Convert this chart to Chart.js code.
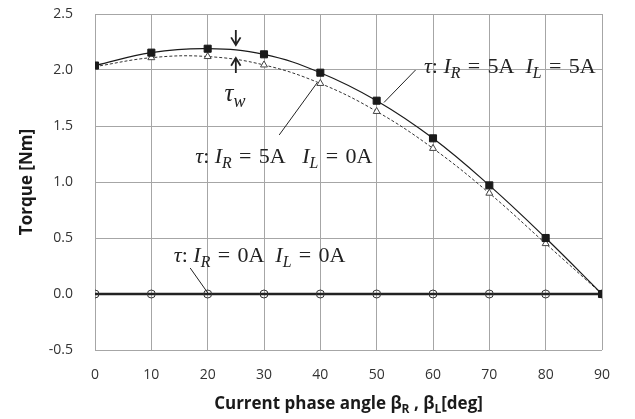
<!DOCTYPE html>
<html>
<head>
<meta charset="utf-8">
<script src="https://cdn.jsdelivr.net/npm/chart.js@4.4.1/dist/chart.umd.min.js"></script>
<style>
  html, body { margin: 0; padding: 0; background: #ffffff; }
  #wrap { width: 635px; height: 419px; position: relative; }
</style>
</head>
<body>
<div id="wrap"><canvas id="torque-chart" width="635" height="419"></canvas></div>
<script>
// phase angle (deg)
const angles = [0, 10, 20, 30, 40, 50, 60, 70, 80, 90];
// torque, IR = 5A, IL = 5A
const torque55 = [2.04, 2.155, 2.19, 2.14, 1.976, 1.726, 1.39, 0.97, 0.50, 0.0];
// torque, IR = 5A, IL = 0A
const torque50 = [2.03, 2.11, 2.12, 2.045, 1.88, 1.63, 1.30, 0.90, 0.45, 0.0];
// torque, IR = 0A, IL = 0A
const torque00 = [0, 0, 0, 0, 0, 0, 0, 0, 0, 0];

const yTicks = [-0.5, 0.0, 0.5, 1.0, 1.5, 2.0, 2.5];

const TICK_FONT = "'Open Sans', 'Liberation Sans', sans-serif";
const MATH_FONT = "'Liberation Serif', 'DejaVu Serif', serif";
const EQ = '\u2004=\u2004';

function toXY(ys) {
    return angles.map((a, i) => ({ x: a, y: ys[i] }));
}

// draws a run of text pieces: [text, italic, subscript]
function drawRich(ctx, x, y, parts, size) {
    let cx = x;
    parts.forEach(p => {
        const sub = p[2];
        const fs = sub ? size * 0.72 : size;
        ctx.font = (p[1] ? 'italic ' : '') + fs + 'px ' + MATH_FONT;
        ctx.fillText(p[0], cx, sub ? y + size * 0.22 : y);
        cx += ctx.measureText(p[0]).width;
    });
}

function arrow(ctx, x1, y1, x2, y2) {
    const ang = Math.atan2(y2 - y1, x2 - x1);
    const h = 9;
    ctx.beginPath();
    ctx.moveTo(x1, y1);
    ctx.lineTo(x2, y2);
    ctx.moveTo(x2 - h * Math.cos(ang - 0.55), y2 - h * Math.sin(ang - 0.55));
    ctx.lineTo(x2, y2);
    ctx.lineTo(x2 - h * Math.cos(ang + 0.55), y2 - h * Math.sin(ang + 0.55));
    ctx.stroke();
}

const labelsPlugin = {
    id: 'labels',
    afterDraw(chart) {
        const ctx = chart.ctx;
        const xs = chart.scales.x, ys = chart.scales.y;
        const X = v => xs.getPixelForValue(v);
        const Y = v => ys.getPixelForValue(v);
        ctx.save();
        ctx.fillStyle = '#222222';
        ctx.strokeStyle = '#222222';
        ctx.textBaseline = 'alphabetic';
        ctx.textAlign = 'left';

        const size = 22;
        drawRich(ctx, X(58.4), Y(1.97), [['τ', true], [': ', false], ['I', true], ['R', true, true], [EQ + '5A  ', false], ['I', true], ['L', true, true], [EQ + '5A', false]], size);
        drawRich(ctx, X(17.8), Y(1.17), [['τ', true], [': ', false], ['I', true], ['R', true, true], [EQ + '5A   ', false], ['I', true], ['L', true, true], [EQ + '0A', false]], size);
        drawRich(ctx, X(14.0), Y(0.286), [['τ', true], [': ', false], ['I', true], ['R', true, true], [EQ + '0A  ', false], ['I', true], ['L', true, true], [EQ + '0A', false]], size);
        drawRich(ctx, X(23.0), Y(1.72), [['τ', true], ['w', true, true]], 25);

        // leader lines
        ctx.lineWidth = 1;
        ctx.beginPath();
        ctx.moveTo(X(56.9), Y(2.0)); ctx.lineTo(X(51.3), Y(1.71));
        ctx.moveTo(X(32.7), Y(1.42)); ctx.lineTo(X(39.4), Y(1.884));
        ctx.moveTo(X(16.9), Y(0.232)); ctx.lineTo(X(20.1), Y(0.004));
        ctx.stroke();

        // tau_w arrows
        ctx.lineWidth = 1.8;
        arrow(ctx, X(25), Y(2.357), X(25), Y(2.223));
        arrow(ctx, X(25), Y(1.973), X(25), Y(2.107));

        // axis titles
        ctx.fillStyle = '#1a1a1a';
        const area = chart.chartArea;
        const sans = "px 'Open Sans', 'Liberation Sans', sans-serif";
        const parts = [['Current phase angle β', false], ['R', true], [' , β', false], ['L', true], ['[deg]', false]];
        let total = 0;
        parts.forEach(p => {
            ctx.font = 'bold ' + (p[1] ? 12 : 17) + sans;
            total += ctx.measureText(p[0]).width;
        });
        let cx = (area.left + area.right) / 2 - total / 2;
        parts.forEach(p => {
            ctx.font = 'bold ' + (p[1] ? 12 : 17) + sans;
            ctx.fillText(p[0], cx, p[1] ? 413 : 409);
            cx += ctx.measureText(p[0]).width;
        });

        ctx.save();
        ctx.translate(32, (area.top + area.bottom) / 2);
        ctx.rotate(-Math.PI / 2);
        ctx.textAlign = 'center';
        ctx.font = 'bold 17' + sans;
        ctx.fillText('Torque [Nm]', 0, 0);
        ctx.restore();

        ctx.restore();
    }
};

const chart = new Chart(document.getElementById('torque-chart').getContext('2d'), {
    type: 'line',
    data: {
        datasets: [
            {
                label: 'IR=5A IL=5A',
                data: toXY(torque55),
                borderColor: '#1a1a1a',
                borderWidth: 1.2,
                tension: 0.4,
                pointStyle: 'rect',
                pointRadius: 5,
                pointBackgroundColor: '#1a1a1a',
                pointBorderColor: '#1a1a1a',
                pointBorderWidth: 1,
                order: 1
            },
            {
                label: 'IR=5A IL=0A',
                data: toXY(torque50),
                borderColor: '#333333',
                borderWidth: 1,
                borderDash: [3, 2],
                tension: 0.4,
                pointStyle: 'triangle',
                pointRadius: 4,
                pointBackgroundColor: '#ffffff',
                pointBorderColor: '#444444',
                pointBorderWidth: 1,
                order: 2
            },
            {
                label: 'IR=0A IL=0A',
                data: toXY(torque00),
                borderColor: '#222222',
                borderWidth: 2.5,
                pointStyle: 'circle',
                pointRadius: 4,
                pointBackgroundColor: 'rgba(255,255,255,0)',
                pointBorderColor: '#333333',
                pointBorderWidth: 1,
                order: 3
            }
        ]
    },
    options: {
        responsive: false,
        animation: false,
        layout: { padding: { left: 0, top: 14, right: 33, bottom: 0 } },
        plugins: {
            legend: { display: false },
            tooltip: { enabled: false }
        },
        scales: {
            x: {
                type: 'linear',
                min: 0,
                max: 90,
                ticks: {
                    stepSize: 10,
                    color: '#333333',
                    padding: 17,
                    font: { family: TICK_FONT, size: 14 }
                },
                grid: { color: '#a6a6a6', lineWidth: 1, drawTicks: false },
                border: { display: false },
                afterFit: s => { s.height = 69; s.paddingLeft = 0; s.paddingRight = 0; }
            },
            y: {
                min: -0.5,
                max: 2.5,
                afterBuildTicks: s => { s.ticks = yTicks.map(v => ({ value: v })); },
                ticks: {
                    color: '#333333',
                    padding: 22,
                    font: { family: TICK_FONT, size: 14 },
                    callback: v => v.toFixed(1)
                },
                grid: { color: '#a6a6a6', lineWidth: 1, drawTicks: false },
                border: { display: false },
                afterFit: s => { s.width = 95; s.paddingTop = 0; s.paddingBottom = 0; }
            }
        }
    },
    plugins: [labelsPlugin]
});
</script>
</body>
</html>
